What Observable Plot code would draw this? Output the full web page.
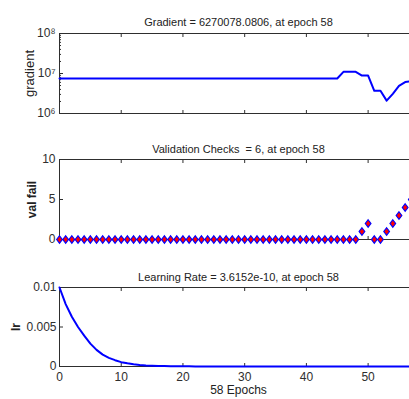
<!DOCTYPE html>
<html><head><meta charset="utf-8">
<script src="https://cdn.jsdelivr.net/npm/d3@7"></script>
<script src="https://cdn.jsdelivr.net/npm/@observablehq/plot@0.6"></script>
<style>
html,body{margin:0;padding:0;background:#fff;overflow:hidden;}
#wrap{position:relative;width:409px;height:399px;overflow:hidden;background:#fff;}
.panel{position:absolute;left:0;width:430px;}
.panel svg{max-width:none !important;}
</style></head><body><div id="wrap"></div>
<script>
// ---- data ----
const gradTitle = "Gradient = 6270078.0806, at epoch 58";
const valTitle = "Validation Checks  = 6, at epoch 58";
const lrTitle = "Learning Rate = 3.6152e-10, at epoch 58";
const xLabel = "58 Epochs";
const gradLabel = "gradient", valLabel = "val fail", lrLabel = "lr";

const gradient = [
  7.5e6,7.5e6,7.5e6,7.5e6,7.5e6,7.5e6,7.5e6,7.5e6,7.5e6,7.5e6,
  7.5e6,7.5e6,7.5e6,7.5e6,7.5e6,7.5e6,7.5e6,7.5e6,7.5e6,7.5e6,
  7.5e6,7.5e6,7.5e6,7.5e6,7.5e6,7.5e6,7.5e6,7.5e6,7.5e6,7.5e6,
  7.5e6,7.5e6,7.5e6,7.5e6,7.5e6,7.5e6,7.5e6,7.5e6,7.5e6,7.5e6,
  7.5e6,7.5e6,7.5e6,7.5e6,7.5e6,7.5e6,1.1e7,1.1e7,1.1e7,8.9e6,
  8.9e6,3.7e6,3.7e6,2.1e6,3.1e6,4.9e6,6.1e6,6.4e6,6270078.0806
];
const valFail = [
  0,0,0,0,0,0,0,0,0,0,
  0,0,0,0,0,0,0,0,0,0,
  0,0,0,0,0,0,0,0,0,0,
  0,0,0,0,0,0,0,0,0,0,
  0,0,0,0,0,0,0,0,0,1,
  2,0,0,1,2,3,4,5,6
];
const learningRate = [
  0.01,0.0079,0.0063,0.0050,0.0039,0.0029,0.0021,0.0015,0.0011,0.0008,
  0.00055,0.0004,0.00028,0.0002,0.00014,1e-4,7.5e-5,5.6e-5,4.2e-5,3.2e-5,
  2.4e-5,1.8e-5,1.3e-5,1e-5,7.5e-6,5.6e-6,4.2e-6,3.2e-6,2.4e-6,1.8e-6,
  1.3e-6,1e-6,7.5e-7,5.6e-7,4.2e-7,3.2e-7,2.4e-7,1.8e-7,1.3e-7,1e-7,
  7.5e-8,5.6e-8,4.2e-8,3.2e-8,2.4e-8,1.8e-8,1.3e-8,1e-8,7.5e-9,5.6e-9,
  4.2e-9,3.2e-9,2.4e-9,1.8e-9,1.3e-9,1e-9,7.5e-10,5.2e-10,3.6152e-10
];
const xTicks = [0,10,20,30,40,50];
const gradTicks = [1e6,1e7,1e8];
const gradMinor = [2e6,3e6,4e6,5e6,6e6,7e6,8e6,9e6,2e7,3e7,4e7,5e7,6e7,7e7,8e7,9e7];
const valTicks = [0,5,10];
const lrTicks = [0,0.005,0.01];

// ---- layout ----
const W = 430, ML = 59, MR = W - 417;
const font = "'Liberation Sans', Arial, sans-serif";
const blue = "#0000ff", red = "#ff0000", axisCol = "#2e2e2e";
const sup = {"6":"\u2076","7":"\u2077","8":"\u2078"};
const diamond = {draw(ctx, size){ const h = Math.sqrt(size/1.5), w = 0.75*h;
  ctx.moveTo(0,-h); ctx.lineTo(w,0); ctx.lineTo(0,h); ctx.lineTo(-w,0); ctx.closePath(); }};

const rows = a => a.map((v,i) => ({epoch: i, value: v}));
const blank = () => "";

function commonX(withLabels) {
  const m = [
    Plot.axisX(xTicks, {anchor:"bottom", tickSize:-3, tickFormat: blank, label:null}),
    Plot.axisX(xTicks, {anchor:"top", tickSize:-3, tickFormat: blank, label:null})
  ];
  if (withLabels) m.push(Plot.axisX(xTicks, {anchor:"bottom", tickSize:0, tickPadding:6, fontSize:12, label:null}));
  return m;
}

function place(svg, top) {
  const d = document.createElement("div");
  d.className = "panel"; d.style.top = top + "px";
  d.appendChild(svg);
  document.getElementById("wrap").appendChild(d);
}

const style = {fontFamily: font, fontSize: "12px", color: axisCol, background: "transparent", overflow: "visible", maxWidth: "none"};
const ylab = (label, dx, opts = {}) => Plot.text([label], {text: d => d, frameAnchor:"left", textAnchor:"middle", dx, rotate:-90, fill:"#222", ...opts});

// Gradient panel
place(Plot.plot({
  width: W, height: 130, marginLeft: ML, marginRight: MR, marginTop: 33, marginBottom: 17,
  style,
  x: {domain: [0, 58], label: null},
  y: {type: "log", domain: [1e6, 1e8], label: null},
  marks: [
    Plot.frame({stroke: "currentColor"}),
    ...commonX(false),
    Plot.axisY(gradTicks, {anchor:"left", tickSize:0, tickPadding:4, fontSize:12,
      tickFormat: d => "10" + sup[String(Math.round(Math.log10(d)))], label:null}),
    Plot.axisY(gradTicks, {anchor:"left", tickSize:-4, tickFormat: blank, label:null}),
    Plot.axisY(gradMinor, {anchor:"left", tickSize:-2, tickFormat: blank, label:null}),
    Plot.line(rows(gradient), {x:"epoch", y:"value", stroke: blue, strokeWidth: 2}),
    Plot.text([gradTitle], {text: d => d, frameAnchor:"top", dy:-15, fontSize:11, fill:"#222"}),
    ylab(gradLabel, -30, {fontSize: 13})
  ]
}), 0);

// Validation panel
place(Plot.plot({
  width: W, height: 130, marginLeft: ML, marginRight: MR, marginTop: 29, marginBottom: 21,
  style,
  x: {domain: [0, 58], label: null},
  y: {domain: [0, 10], label: null},
  marks: [
    Plot.frame({stroke: "currentColor"}),
    ...commonX(false),
    Plot.axisY(valTicks, {anchor:"left", tickSize:0, tickPadding:4, fontSize:12, label:null}),
    Plot.axisY(valTicks, {anchor:"left", tickSize:-4, tickFormat: blank, label:null}),
    Plot.dot(rows(valFail), {x:"epoch", y:"value", symbol: diamond, r: 2.6, fill: red, stroke: blue, strokeWidth: 1.2}),
    Plot.text([valTitle], {text: d => d, frameAnchor:"top", dy:-14, fontSize:11, fill:"#222"}),
    ylab(valLabel, -27, {fontSize: 12, fontWeight: "bold"})
  ]
}), 130);

// Learning rate panel
place(Plot.plot({
  width: W, height: 139, marginLeft: ML, marginRight: MR, marginTop: 27, marginBottom: 33,
  style,
  x: {domain: [0, 58], label: null},
  y: {domain: [0, 0.01], label: null},
  marks: [
    Plot.frame({stroke: "currentColor"}),
    ...commonX(true),
    Plot.axisY(lrTicks, {anchor:"left", tickSize:0, tickPadding:3, fontSize:12, tickFormat: d => String(d), label:null}),
    Plot.axisY(lrTicks, {anchor:"left", tickSize:-4, tickFormat: blank, label:null}),
    Plot.line(rows(learningRate), {x:"epoch", y:"value", stroke: blue, strokeWidth: 2}),
    Plot.text([lrTitle], {text: d => d, frameAnchor:"top", dy:-14, fontSize:11, fill:"#222"}),
    ylab(lrLabel, -43, {fontSize: 12, fontWeight: "bold"}),
    Plot.text([xLabel], {text: d => d, frameAnchor:"bottom", dy:27, fontSize:12, fill:"#222"})
  ]
}), 260);
</script></body></html>
